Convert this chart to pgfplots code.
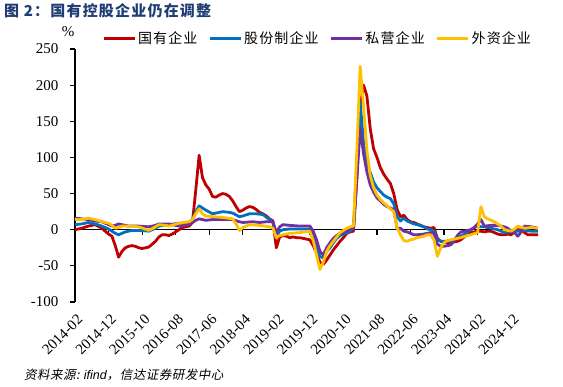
\documentclass[border=0pt]{standalone}
\usepackage{fontspec}
\setmainfont{Liberation Serif}
\setsansfont{Liberation Sans}
\newfontfamily\cjk{Noto Sans CJK SC}
\newfontfamily\cjkls[LetterSpace=8]{Noto Sans CJK SC}
\newfontfamily\cjkit[FakeSlant=0.2,LetterSpace=4]{Noto Sans CJK SC}
\usepackage{pgfplots}
\pgfplotsset{compat=1.18}
\definecolor{cRed}{HTML}{C00000}
\definecolor{cBlue}{HTML}{0070C0}
\definecolor{cPurple}{HTML}{7030A0}
\definecolor{cYellow}{HTML}{FFC000}
\definecolor{cTitle}{HTML}{1F3C73}
\begin{document}
\begin{tikzpicture}
\useasboundingbox (0pt,0pt) rectangle (563pt,387pt);
% zero line with ticks
\begin{axis}[at={(75pt,85pt)}, anchor=south west, scale only axis,
  width=463pt, height=253pt, xmin=0, xmax=138, ymin=-100, ymax=250,
  axis x line*=middle, axis y line=none,
  xtick={0,10,...,130}, xticklabels={}, ytick=\empty,
  x axis line style={line width=1.2pt, black},
  xtick style={line width=1.2pt, black},
  tick align=outside, major tick length=5pt]
\addplot[draw=none] coordinates {(0,0) (138,0)};
\end{axis}
\begin{axis}[at={(75pt,85pt)}, anchor=south west, scale only axis,
  width=463pt, height=253pt, xmin=0, xmax=138, ymin=-100, ymax=250,
  axis y line*=left, axis x line*=bottom,
  x axis line style={draw=none},
  xtick={0,10,...,130},
  xticklabels={2014-02,2014-12,2015-10,2016-08,2017-06,2018-04,2019-02,2019-12,2020-10,2021-08,2022-06,2023-04,2024-02,2024-12},
  xtick style={draw=none},
  ytick={-100,-50,...,250},
  y axis line style={line width=1.2pt, black},
  ytick style={line width=1.2pt, black},
  ytick align=outside, major tick length=5pt,
  /pgf/number format/assume math mode=true,
  tick label style={font=\fontsize{15}{15}\selectfont},
  xticklabel style={rotate=45, anchor=north east, inner sep=1pt, xshift=-6pt, yshift=-8pt},
  yticklabel style={xshift=-8pt},
  legend style={draw=none, fill=none, at={(0.524,1)}, anchor=south, yshift=0pt,
    legend columns=4, font=\cjkls\fontsize{14}{14}\selectfont,
    /tikz/every even column/.append style={column sep=9pt}},
  legend image code/.code={\draw[#1, line width=2.8pt] (0pt,0pt) -- (31pt,0pt);},
  every axis plot/.append style={line width=2.8pt, line join=round}]
\addplot[cRed] coordinates {(0,0) (2,2) (4,5) (6,7) (8,2) (10,-6) (11,-9) (12,-22) (13,-38) (14,-30) (15,-25) (16,-23) (17,-22) (18,-23) (19,-25) (20,-26) (21,-25) (22,-24) (23,-20) (24,-16) (25,-10) (26,-7) (27,-7) (28,-8) (29,-6) (30,-3) (31,0) (32,3) (33,4) (34,5) (35,10) (36,55) (37,103) (38,72) (39,62) (40,56) (41,46) (42,45) (43,48) (44,50) (45,49) (46,46) (47,40) (48,32) (49,25) (50,27) (51,30) (52,32) (53,31) (54,28) (55,24) (56,22) (57,19) (58,15) (59,12) (60,-25) (61,-10) (62,-8) (63,-9) (64,-11) (65,-10) (66,-11) (67,-11) (68,-12) (69,-13) (70,-14) (71,-22) (72,-32) (73,-45) (74,-48) (75,-42) (76,-35) (77,-28) (78,-22) (79,-16) (80,-11) (81,-5) (82,-3) (83,-2) (84,70) (85,170) (86,200) (87,185) (88,140) (89,112) (90,100) (91,86) (92,77) (93,70) (94,64) (95,50) (96,28) (97,18) (98,20) (99,14) (100,11) (101,10) (102,8) (103,6) (104,4) (105,3) (106,2) (107,3) (108,-12) (109,-16) (110,-17) (111,-18) (112,-18) (113,-17) (114,-16) (115,-14) (116,-10) (117,-7) (118,-4) (119,-3) (120,-2) (121,-2) (122,-3) (123,-2) (124,-2) (125,-4) (126,-6) (127,-7) (128,-7) (129,-6) (130,-7) (131,-3) (132,0) (133,0) (134,-4) (135,-7) (136,-7) (137,-7) (138,-7)};
\addlegendentry{国有企业}
\addplot[cBlue] coordinates {(0,7) (2,8) (4,10) (6,8) (8,5) (10,1) (11,-2) (12,-5) (13,-7) (14,-5) (15,-3) (17,-1) (19,-1) (22,-2) (24,2) (25,5) (28,7) (31,9) (34,9) (35,14) (36,25) (37,33) (38,30) (39,27) (41,22) (42,23) (44,25) (46,24) (47,23) (49,18) (50,19) (52,22) (54,22) (56,21) (58,14) (59,10) (60,-9) (61,-2) (62,0) (64,1) (67,1) (70,1) (71,-5) (72,-23) (73,-37) (74,-39) (75,-30) (76,-25) (77,-18) (78,-12) (79,-8) (80,-6) (81,-4) (82,-2) (83,2) (84,90) (85,177) (86,120) (87,95) (88,79) (89,66) (90,58) (91,53) (92,48) (93,45) (94,43) (95,36) (96,18) (97,12) (98,16) (99,12) (100,10) (101,8) (102,7) (104,4) (105,1) (106,0) (107,-2) (108,-14) (109,-16) (110,-16) (112,-16) (113,-15) (115,-9) (117,-3) (118,0) (119,3) (120,5) (121,4) (122,4) (124,2) (126,0) (128,-4) (130,-3) (132,-2) (134,-1) (136,-2) (138,-2)};
\addlegendentry{股份制企业}
\addplot[cPurple] coordinates {(0,16) (2,15) (4,14) (6,12) (8,11) (10,7) (11,5) (12,6) (13,8) (14,7) (16,5) (19,5) (22,4) (24,6) (25,8) (28,8) (31,5) (34,7) (35,10) (36,13) (37,15) (39,13) (41,14) (44,14) (47,14) (49,11) (50,10) (53,11) (55,10) (57,11) (59,11) (60,-4) (61,4) (62,7) (64,6) (67,5) (70,5) (71,-2) (72,-14) (73,-30) (74,-35) (75,-25) (76,-18) (77,-12) (78,-8) (79,-5) (80,-4) (81,-2) (82,0) (83,1) (84,70) (85,141) (86,105) (87,80) (88,62) (89,52) (90,44) (91,40) (92,35) (93,32) (94,30) (95,28) (96,2) (97,2) (98,-2) (99,-3) (100,-5) (101,-7) (102,-7) (104,-6) (106,-4) (107,-5) (108,-20) (109,-23) (110,-23) (112,-21) (113,-15) (114,-8) (115,-3) (117,-1) (118,0) (119,3) (120,8) (121,14) (122,5) (124,6) (126,6) (128,4) (129,2) (130,-2) (131,-4) (132,-9) (133,-3) (134,5) (136,4) (138,2)};
\addlegendentry{私营企业}
\addplot[cYellow] coordinates {(0,14) (2,14) (4,16) (6,14) (8,11) (10,9) (11,6) (12,2) (13,3) (14,5) (16,5) (19,4) (22,-1) (24,4) (25,7) (27,6) (28,5) (31,9) (34,11) (35,14) (36,22) (37,29) (38,22) (39,19) (41,18) (44,17) (47,15) (48,8) (49,-1) (50,3) (52,7) (55,6) (58,4) (59,2) (60,-11) (61,-8) (62,-7) (64,-5) (67,-4) (70,-2) (71,-15) (72,-35) (73,-55) (74,-45) (75,-30) (76,-22) (77,-16) (78,-10) (79,-4) (80,-1) (81,2) (82,4) (83,5) (84,110) (85,226) (86,170) (87,110) (88,75) (89,58) (90,48) (91,42) (92,37) (93,33) (94,29) (95,25) (96,3) (97,-7) (98,-15) (99,-16) (100,-14) (101,-13) (102,-11) (104,-9) (105,-7) (106,-7) (107,-14) (108,-37) (109,-25) (110,-18) (111,-15) (113,-13) (115,-11) (117,-8) (118,-7) (120,-4) (121,32) (122,18) (123,15) (125,11) (127,5) (128,0) (130,-2) (131,1) (132,5) (134,2) (136,3) (138,2)};
\addlegendentry{外资企业}
\end{axis}
\node[anchor=base, font=\fontsize{15}{15}\selectfont] at (68pt,350pt) {\%};
\node[anchor=west, inner sep=0pt, text=cTitle, font=\cjkls\bfseries\fontsize{15}{15}\selectfont] at (4pt,376pt) {图\ 2：国有控股企业仍在调整};
\node[anchor=west, inner sep=0pt, font=\fontsize{12.5}{12.5}\selectfont] at (24pt,12pt) {{\cjkit 资料来源:} {\sffamily\itshape ifind}{\cjkit ，信达证券研发中心}};
\end{tikzpicture}
\end{document}
